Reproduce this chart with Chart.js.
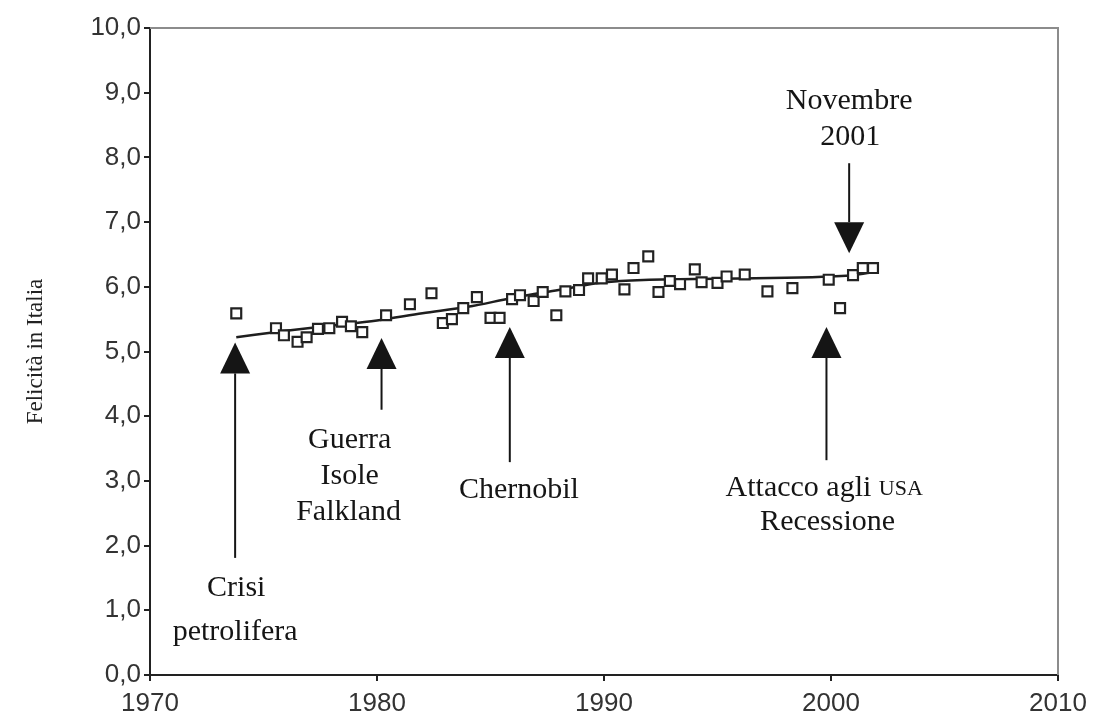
<!DOCTYPE html>
<html lang="it">
<head>
  <meta charset="UTF-8">
  <title>Felicità in Italia</title>
  <script src="https://cdn.jsdelivr.net/npm/chart.js"></script>
  <style>
    html, body { margin: 0; padding: 0; background: #fff; }
    #wrap { width: 1103px; height: 718px; }
  </style>
</head>
<body>
  <div id="wrap">
    <canvas id="felicita" width="1103" height="718"></canvas>
  </div>

  <script>
    // anni e valori (quadratini)
    const anni = [1973.8, 1975.55, 1975.9, 1976.5, 1976.9, 1977.4, 1977.9, 1978.46, 1978.85, 1979.35,
      1980.4, 1981.45, 1982.4, 1982.9, 1983.3, 1983.8, 1984.4, 1985.0, 1985.4, 1985.95,
      1986.3, 1986.9, 1987.3, 1987.9, 1988.3, 1988.9, 1989.3, 1989.9, 1990.35, 1990.9,
      1991.3, 1991.95, 1992.4, 1992.9, 1993.35, 1994.0, 1994.3, 1995.0, 1995.4, 1996.2,
      1997.2, 1998.3, 1999.9, 2000.4, 2000.97, 2001.4, 2001.85];
    const felicita = [5.59, 5.36, 5.25, 5.15, 5.22, 5.35, 5.36, 5.46, 5.39, 5.30,
      5.56, 5.73, 5.90, 5.44, 5.50, 5.67, 5.84, 5.52, 5.52, 5.81,
      5.87, 5.78, 5.92, 5.56, 5.93, 5.95, 6.13, 6.13, 6.19, 5.96,
      6.29, 6.47, 5.92, 6.09, 6.04, 6.27, 6.07, 6.06, 6.16, 6.19,
      5.93, 5.98, 6.11, 5.67, 6.18, 6.29, 6.29];

    // linea di tendenza
    const anniTrend = [1973.8, 1976, 1978, 1980, 1982, 1984, 1986, 1988, 1990, 1992, 1994, 1996, 1998, 2000, 2001, 2001.9];
    const valoriTrend = [5.22, 5.32, 5.40, 5.48, 5.59, 5.69, 5.83, 5.95, 6.07, 6.11, 6.12, 6.13, 6.14, 6.16, 6.18, 6.23];

    const tickAnni = [1970, 1980, 1990, 2000, 2010];

    // eventi: frecce (anno, punta, fine asta) ed etichette
    const frecce = [
      { anno: 1973.75, punta: 5.14, fine: 1.81, su: true },
      { anno: 1980.2, punta: 5.21, fine: 4.10, su: true },
      { anno: 1985.85, punta: 5.38, fine: 3.29, su: true },
      { anno: 1999.8, punta: 5.38, fine: 3.32, su: true },
      { anno: 2000.8, punta: 6.52, fine: 7.91, su: false }
    ];
    const etichette = [
      { testo: 'Crisi', anno: 1973.8, y: 1.34 },
      { testo: 'petrolifera', anno: 1973.75, y: 0.66 },
      { testo: 'Guerra', anno: 1978.8, y: 3.63 },
      { testo: 'Isole', anno: 1978.8, y: 3.08 },
      { testo: 'Falkland', anno: 1978.75, y: 2.52 },
      { testo: 'Chernobil', anno: 1986.25, y: 2.86 },
      { testo: 'Attacco agli ', maiuscoletto: 'USA', anno: 1999.7, y: 2.89 },
      { testo: 'Recessione', anno: 1999.85, y: 2.36 },
      { testo: 'Novembre', anno: 2000.8, y: 8.87 },
      { testo: '2001', anno: 2000.85, y: 8.32 }
    ];

    const serif = '"Liberation Serif", "DejaVu Serif", serif';

    const annotazioni = {
      id: 'annotazioni',
      afterDatasetsDraw(chart) {
        const { ctx, chartArea: a, scales: { x, y } } = chart;
        ctx.save();

        // bordo superiore e destro, più chiaro
        ctx.strokeStyle = '#8c8c8c';
        ctx.lineWidth = 2;
        ctx.beginPath();
        ctx.moveTo(a.left, a.top);
        ctx.lineTo(a.right, a.top);
        ctx.lineTo(a.right, a.bottom);
        ctx.stroke();

        ctx.fillStyle = '#151515';
        ctx.strokeStyle = '#151515';
        frecce.forEach(f => {
          const px = x.getPixelForValue(f.anno);
          const tip = y.getPixelForValue(f.punta);
          const end = y.getPixelForValue(f.fine);
          const head = 31, half = 15;
          const base = f.su ? tip + head : tip - head;
          ctx.lineWidth = 2;
          ctx.beginPath();
          ctx.moveTo(px, base);
          ctx.lineTo(px, end);
          ctx.stroke();
          ctx.beginPath();
          ctx.moveTo(px, tip);
          ctx.lineTo(px - half, base);
          ctx.lineTo(px + half, base);
          ctx.closePath();
          ctx.fill();
        });

        ctx.textBaseline = 'middle';
        ctx.textAlign = 'left';
        etichette.forEach(e => {
          const px = x.getPixelForValue(e.anno);
          const py = y.getPixelForValue(e.y);
          ctx.font = '30px ' + serif;
          const w1 = ctx.measureText(e.testo).width;
          let w2 = 0;
          if (e.maiuscoletto) {
            ctx.font = '22px ' + serif;
            w2 = ctx.measureText(e.maiuscoletto).width;
          }
          const start = px - (w1 + w2) / 2;
          ctx.font = '30px ' + serif;
          ctx.fillText(e.testo, start, py);
          if (e.maiuscoletto) {
            ctx.font = '22px ' + serif;
            ctx.fillText(e.maiuscoletto, start + w1, py + 1);
          }
        });
        ctx.restore();
      }
    };

    const ctx = document.getElementById('felicita').getContext('2d');
    new Chart(ctx, {
      type: 'scatter',
      data: {
        datasets: [
          {
            label: 'Felicità',
            data: anni.map((a, i) => ({ x: a, y: felicita[i] })),
            pointStyle: 'rect',
            pointRadius: 7,
            pointBorderWidth: 2.2,
            pointBorderColor: '#222',
            pointBackgroundColor: '#fff',
            showLine: false
          },
          {
            label: 'Tendenza',
            data: anniTrend.map((a, i) => ({ x: a, y: valoriTrend[i] })),
            showLine: true,
            borderColor: '#1e1e1e',
            borderWidth: 2.5,
            pointRadius: 0,
            tension: 0.4,
            cubicInterpolationMode: 'monotone',
            fill: false
          }
        ]
      },
      options: {
        responsive: false,
        animation: false,
        devicePixelRatio: 1,
        layout: { padding: { left: 0, right: 45, top: 28, bottom: 0 } },
        plugins: {
          legend: { display: false },
          tooltip: { enabled: false }
        },
        scales: {
          x: {
            type: 'linear',
            min: 1970,
            max: 2010,
            afterBuildTicks: s => { s.ticks = tickAnni.map(v => ({ value: v })); },
            afterFit: s => { s.height = 43; },
            grid: { display: true, drawOnChartArea: false, drawTicks: true, tickLength: 6, color: '#222', lineWidth: 2 },
            border: { display: true, color: '#222', width: 2 },
            ticks: {
              padding: 7,
              color: '#333',
              font: { family: '"Liberation Sans", Arial, sans-serif', size: 26 },
              callback: v => String(v)
            }
          },
          y: {
            min: 0,
            max: 10,
            afterFit: s => { s.width = 150; },
            grid: { display: true, drawOnChartArea: false, drawTicks: true, tickLength: 6, color: '#222', lineWidth: 2 },
            border: { display: true, color: '#222', width: 2 },
            ticks: {
              stepSize: 1,
              padding: 3,
              color: '#333',
              font: { family: '"Liberation Sans", Arial, sans-serif', size: 26 },
              callback: v => v.toFixed(1).replace('.', ',')
            },
            title: {
              display: true,
              text: 'Felicità in Italia',
              color: '#222',
              padding: { top: 22, bottom: 0 },
              font: { family: serif, size: 23 }
            }
          }
        }
      },
      plugins: [annotazioni]
    });
  </script>
</body>
</html>
